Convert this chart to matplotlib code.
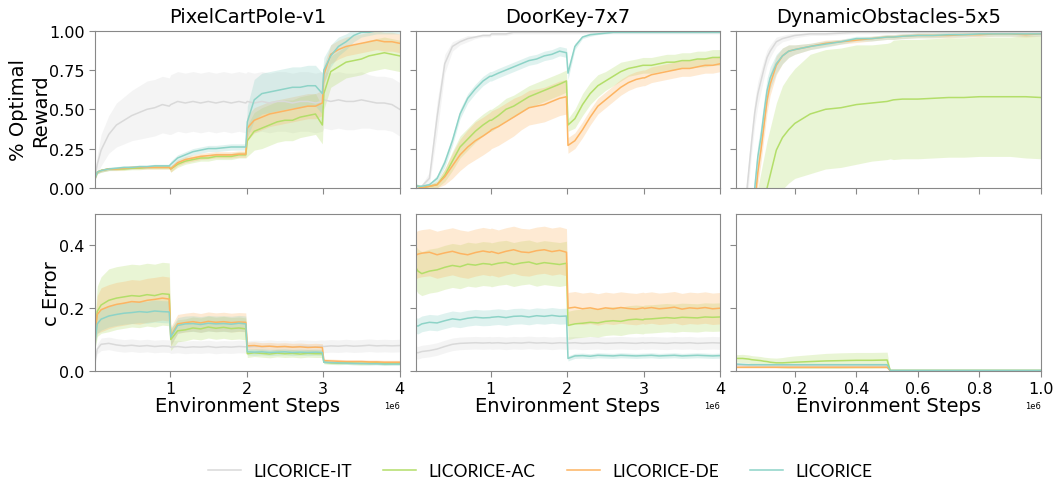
import numpy as np
import matplotlib.pyplot as plt

# method names and colours
names = ['LICORICE-IT', 'LICORICE-AC', 'LICORICE-DE', 'LICORICE']
colors = ['#d9d9d9', '#b3de69', '#fdb462', '#8dd3c7']
titles = ['PixelCartPole-v1', 'DoorKey-7x7', 'DynamicObstacles-5x5']

# environment steps (x 1e6)
x_long = [0.02, 0.05, 0.1, 0.2, 0.3, 0.4, 0.5, 0.6, 0.7, 0.8, 0.9, 0.99,
          1.01, 1.1, 1.2, 1.3, 1.4, 1.5, 1.6, 1.7, 1.8, 1.9, 1.99,
          2.01, 2.1, 2.2, 2.3, 2.4, 2.5, 2.6, 2.7, 2.8, 2.9, 2.99,
          3.01, 3.1, 3.2, 3.3, 3.4, 3.5, 3.6, 3.7, 3.8, 3.9, 4.0]
x_short = [0.01, 0.03, 0.05, 0.06, 0.07, 0.08, 0.09, 0.1,
           0.11, 0.12, 0.14, 0.16, 0.18, 0.2, 0.25, 0.3,
           0.35, 0.4, 0.45, 0.5, 0.51, 0.52, 0.55, 0.6,
           0.65, 0.7, 0.75, 0.8, 0.85, 0.9, 0.95, 1.0]

# ---- PixelCartPole: % optimal reward ----
cp_it = [0.07, 0.15, 0.24, 0.34, 0.40, 0.43, 0.46, 0.48, 0.50, 0.51, 0.53, 0.52,
         0.53, 0.55, 0.54, 0.55, 0.54, 0.55, 0.54, 0.55, 0.54, 0.55, 0.54,
         0.55, 0.54, 0.55, 0.54, 0.55, 0.55, 0.54, 0.55, 0.55, 0.54, 0.55,
         0.56, 0.55, 0.56, 0.55, 0.55, 0.56, 0.55, 0.54, 0.54, 0.53, 0.50]
cp_it_sd = [0.02, 0.06, 0.10, 0.12, 0.14, 0.15, 0.16, 0.17, 0.18, 0.18, 0.18, 0.18,
            0.19, 0.19, 0.19, 0.19, 0.19, 0.19, 0.19, 0.19, 0.19, 0.19, 0.19,
            0.19, 0.19, 0.19, 0.19, 0.19, 0.19, 0.19, 0.19, 0.19, 0.19, 0.19,
            0.18, 0.18, 0.18, 0.18, 0.18, 0.18, 0.17, 0.17, 0.17, 0.17, 0.17]
cp_ac = [0.06, 0.10, 0.11, 0.12, 0.12, 0.12, 0.125, 0.125, 0.13, 0.13, 0.13, 0.13,
         0.12, 0.15, 0.17, 0.18, 0.19, 0.19, 0.20, 0.20, 0.20, 0.21, 0.21,
         0.30, 0.36, 0.38, 0.40, 0.42, 0.43, 0.43, 0.45, 0.46, 0.47, 0.40,
         0.60, 0.74, 0.77, 0.80, 0.81, 0.82, 0.84, 0.85, 0.86, 0.85, 0.84]
cp_ac_sd = [0.01, 0.01, 0.01, 0.01, 0.01, 0.01, 0.01, 0.01, 0.01, 0.01, 0.01, 0.01,
            0.02, 0.02, 0.02, 0.02, 0.02, 0.02, 0.02, 0.02, 0.02, 0.02, 0.02,
            0.10, 0.12, 0.13, 0.13, 0.13, 0.13, 0.13, 0.13, 0.13, 0.13, 0.12,
            0.10, 0.10, 0.10, 0.10, 0.10, 0.10, 0.10, 0.10, 0.10, 0.10, 0.10]
cp_de = [0.06, 0.10, 0.11, 0.12, 0.12, 0.125, 0.13, 0.13, 0.13, 0.13, 0.13, 0.13,
         0.12, 0.16, 0.18, 0.19, 0.20, 0.205, 0.21, 0.21, 0.21, 0.215, 0.215,
         0.38, 0.43, 0.45, 0.47, 0.48, 0.49, 0.50, 0.51, 0.52, 0.52, 0.54,
         0.72, 0.85, 0.88, 0.90, 0.91, 0.92, 0.93, 0.94, 0.93, 0.93, 0.92]
cp_de_sd = [0.01, 0.01, 0.01, 0.01, 0.01, 0.01, 0.01, 0.01, 0.01, 0.01, 0.01, 0.01,
            0.02, 0.02, 0.02, 0.02, 0.02, 0.02, 0.02, 0.02, 0.02, 0.02, 0.02,
            0.08, 0.08, 0.08, 0.08, 0.08, 0.08, 0.08, 0.08, 0.08, 0.08, 0.08,
            0.06, 0.06, 0.06, 0.06, 0.06, 0.06, 0.06, 0.06, 0.06, 0.06, 0.06]
cp_lic = [0.06, 0.10, 0.11, 0.12, 0.125, 0.13, 0.13, 0.135, 0.135, 0.14, 0.14, 0.14,
          0.15, 0.19, 0.21, 0.23, 0.24, 0.25, 0.25, 0.255, 0.26, 0.26, 0.26,
          0.42, 0.56, 0.60, 0.61, 0.62, 0.63, 0.64, 0.64, 0.65, 0.65, 0.60,
          0.75, 0.84, 0.90, 0.93, 0.97, 0.99, 0.99, 1.0, 1.0, 1.0, 1.0]
cp_lic_sd = [0.01, 0.01, 0.01, 0.01, 0.01, 0.01, 0.01, 0.01, 0.01, 0.01, 0.01, 0.01,
             0.02, 0.02, 0.02, 0.02, 0.02, 0.02, 0.02, 0.02, 0.02, 0.02, 0.02,
             0.10, 0.13, 0.13, 0.13, 0.13, 0.13, 0.13, 0.13, 0.13, 0.13, 0.13,
             0.08, 0.07, 0.06, 0.05, 0.04, 0.03, 0.02, 0.02, 0.02, 0.02, 0.02]

# ---- DoorKey: % optimal reward ----
dk_it = [0.0, 0.0, 0.01, 0.06, 0.45, 0.79, 0.90, 0.93, 0.95, 0.96, 0.97, 0.97,
         0.98, 0.98, 0.98, 0.99, 0.99, 0.99, 0.99, 0.99, 0.99, 0.99, 0.99,
         0.99, 0.99, 0.99, 0.99, 0.99, 0.99, 0.99, 0.99, 0.99, 0.99, 0.99,
         0.99, 0.99, 0.99, 0.99, 0.99, 0.99, 0.99, 0.99, 0.99, 0.99, 0.99]
dk_it_sd = [0.0, 0.0, 0.01, 0.04, 0.10, 0.06, 0.03, 0.02, 0.02, 0.01, 0.01, 0.01,
            0.01, 0.01, 0.01, 0.01, 0.01, 0.01, 0.01, 0.01, 0.01, 0.01, 0.01,
            0.01, 0.01, 0.01, 0.01, 0.01, 0.01, 0.01, 0.01, 0.01, 0.01, 0.01,
            0.01, 0.01, 0.01, 0.01, 0.01, 0.01, 0.01, 0.01, 0.01, 0.01, 0.01]
dk_ac = [0.01, 0.01, 0.00, 0.01, 0.02, 0.08, 0.17, 0.26, 0.31, 0.36, 0.40, 0.43,
         0.43, 0.46, 0.50, 0.52, 0.55, 0.58, 0.60, 0.62, 0.64, 0.66, 0.68,
         0.40, 0.44, 0.53, 0.60, 0.65, 0.68, 0.71, 0.74, 0.76, 0.77, 0.78,
         0.78, 0.78, 0.79, 0.80, 0.80, 0.81, 0.81, 0.82, 0.82, 0.83, 0.83]
dk_ac_sd = [0.01, 0.01, 0.01, 0.01, 0.02, 0.04, 0.06, 0.07, 0.07, 0.07, 0.07, 0.07,
            0.07, 0.07, 0.07, 0.07, 0.07, 0.07, 0.07, 0.07, 0.07, 0.07, 0.07,
            0.04, 0.06, 0.07, 0.07, 0.07, 0.06, 0.06, 0.06, 0.05, 0.05, 0.05,
            0.05, 0.05, 0.05, 0.05, 0.05, 0.05, 0.05, 0.05, 0.05, 0.05, 0.05]
dk_de = [0.01, 0.01, 0.00, 0.01, 0.02, 0.07, 0.14, 0.21, 0.26, 0.30, 0.33, 0.36,
         0.37, 0.39, 0.42, 0.45, 0.48, 0.51, 0.52, 0.53, 0.55, 0.57, 0.58,
         0.27, 0.30, 0.37, 0.45, 0.52, 0.56, 0.60, 0.64, 0.67, 0.69, 0.70,
         0.70, 0.72, 0.73, 0.74, 0.75, 0.76, 0.76, 0.77, 0.78, 0.78, 0.79]
dk_de_sd = [0.01, 0.01, 0.01, 0.01, 0.02, 0.05, 0.08, 0.10, 0.11, 0.12, 0.12, 0.12,
            0.12, 0.12, 0.12, 0.12, 0.11, 0.11, 0.11, 0.11, 0.11, 0.11, 0.11,
            0.05, 0.05, 0.05, 0.05, 0.05, 0.05, 0.05, 0.05, 0.05, 0.05, 0.05,
            0.05, 0.05, 0.05, 0.05, 0.05, 0.05, 0.05, 0.05, 0.05, 0.05, 0.05]
dk_lic = [0.02, 0.01, 0.01, 0.02, 0.06, 0.16, 0.30, 0.47, 0.57, 0.63, 0.68, 0.71,
          0.71, 0.73, 0.75, 0.77, 0.79, 0.81, 0.82, 0.84, 0.85, 0.87, 0.86,
          0.73, 0.90, 0.96, 0.975, 0.98, 0.985, 0.99, 0.99, 0.99, 0.99, 0.99,
          0.99, 0.99, 0.99, 0.99, 0.99, 0.99, 0.99, 0.99, 0.99, 0.99, 0.99]
dk_lic_sd = [0.01, 0.01, 0.01, 0.01, 0.02, 0.03, 0.03, 0.03, 0.03, 0.03, 0.03, 0.03,
             0.03, 0.03, 0.03, 0.03, 0.03, 0.03, 0.03, 0.03, 0.03, 0.03, 0.03,
             0.04, 0.02, 0.01, 0.01, 0.005, 0.005, 0.005, 0.005, 0.005, 0.005, 0.005,
             0.005, 0.005, 0.005, 0.005, 0.005, 0.005, 0.005, 0.005, 0.005, 0.005, 0.005]

# ---- DynamicObstacles: % optimal reward ----
do_it = [-0.6, -0.3, 0.10, 0.30, 0.48, 0.60, 0.68, 0.76,
         0.83, 0.87, 0.93, 0.95, 0.96, 0.97, 0.98, 0.98,
         0.985, 0.99, 0.99, 0.99, 0.99, 0.99, 0.99, 0.99,
         0.99, 0.99, 0.99, 0.99, 0.99, 0.99, 0.99, 0.99]
do_it_sd = [0.05, 0.05, 0.08, 0.08, 0.08, 0.08, 0.07, 0.06,
            0.05, 0.04, 0.03, 0.02, 0.02, 0.015, 0.01, 0.01,
            0.01, 0.01, 0.01, 0.01, 0.01, 0.01, 0.01, 0.01,
            0.01, 0.01, 0.01, 0.01, 0.01, 0.01, 0.01, 0.01]
do_ac = [-1.0, -0.8, -0.6, -0.5, -0.4, -0.3, -0.2, -0.1,
         0.0, 0.08, 0.24, 0.32, 0.37, 0.41, 0.47, 0.50,
         0.51, 0.53, 0.54, 0.55, 0.555, 0.56, 0.565, 0.565,
         0.57, 0.575, 0.575, 0.58, 0.58, 0.58, 0.58, 0.575]
do_ac_sd = [0.30, 0.30, 0.30, 0.30, 0.30, 0.30, 0.30, 0.30,
            0.30, 0.30, 0.30, 0.33, 0.34, 0.35, 0.38, 0.38,
            0.38, 0.38, 0.37, 0.37, 0.37, 0.38, 0.38, 0.38,
            0.38, 0.38, 0.38, 0.38, 0.38, 0.38, 0.39, 0.39]
do_de = [-1.0, -0.8, -0.5, -0.3, -0.1, 0.1, 0.24, 0.40,
         0.56, 0.66, 0.78, 0.84, 0.87, 0.88, 0.90, 0.92,
         0.93, 0.94, 0.95, 0.96, 0.96, 0.96, 0.965, 0.97,
         0.97, 0.97, 0.975, 0.975, 0.98, 0.98, 0.975, 0.98]
do_de_sd = [0.08, 0.08, 0.08, 0.08, 0.08, 0.08, 0.08, 0.08,
            0.08, 0.07, 0.06, 0.05, 0.04, 0.03, 0.02, 0.02,
            0.015, 0.015, 0.015, 0.015, 0.015, 0.015, 0.015, 0.015,
            0.015, 0.015, 0.015, 0.015, 0.015, 0.015, 0.015, 0.015]
do_lic = [-1.0, -0.7, -0.4, -0.2, 0.0, 0.2, 0.32, 0.48,
          0.62, 0.70, 0.79, 0.84, 0.87, 0.88, 0.90, 0.915,
          0.93, 0.95, 0.95, 0.96, 0.96, 0.96, 0.965, 0.97,
          0.97, 0.975, 0.975, 0.98, 0.98, 0.98, 0.98, 0.98]
do_lic_sd = [0.08, 0.08, 0.08, 0.08, 0.08, 0.08, 0.08, 0.08,
             0.08, 0.07, 0.06, 0.05, 0.04, 0.03, 0.02, 0.02,
             0.015, 0.015, 0.015, 0.015, 0.015, 0.015, 0.015, 0.015,
             0.015, 0.015, 0.015, 0.015, 0.015, 0.015, 0.015, 0.015]

# ---- PixelCartPole: c error ----
cpe_it = [0.03, 0.07, 0.085, 0.088, 0.083, 0.080, 0.082, 0.079, 0.081, 0.078, 0.080, 0.079,
          0.076, 0.078, 0.075, 0.077, 0.076, 0.078, 0.075, 0.077, 0.076, 0.078, 0.077,
          0.076, 0.078, 0.077, 0.079, 0.077, 0.078, 0.076, 0.079, 0.078, 0.077, 0.079,
          0.078, 0.080, 0.079, 0.081, 0.079, 0.080, 0.082, 0.080, 0.081, 0.080, 0.081]
cpe_it_sd = [0.01, 0.015, 0.02, 0.02, 0.02, 0.02, 0.02, 0.02, 0.02, 0.02, 0.02, 0.02,
             0.02, 0.02, 0.02, 0.02, 0.02, 0.02, 0.02, 0.02, 0.02, 0.02, 0.02,
             0.02, 0.02, 0.02, 0.02, 0.02, 0.02, 0.02, 0.02, 0.02, 0.02, 0.02,
             0.02, 0.02, 0.02, 0.02, 0.02, 0.02, 0.02, 0.02, 0.02, 0.02, 0.02]
cpe_ac = [0.12, 0.19, 0.21, 0.225, 0.232, 0.236, 0.240, 0.238, 0.243, 0.240, 0.246, 0.244,
          0.100, 0.128, 0.131, 0.137, 0.134, 0.140, 0.136, 0.139, 0.135, 0.137, 0.134,
          0.055, 0.058, 0.056, 0.054, 0.057, 0.055, 0.056, 0.054, 0.056, 0.055, 0.055,
          0.028, 0.026, 0.025, 0.026, 0.025, 0.024, 0.025, 0.026, 0.024, 0.025, 0.025]
cpe_ac_sd = [0.05, 0.08, 0.09, 0.10, 0.10, 0.10, 0.10, 0.10, 0.10, 0.10, 0.10, 0.10,
             0.035, 0.035, 0.035, 0.035, 0.035, 0.035, 0.035, 0.035, 0.035, 0.035, 0.035,
             0.012, 0.012, 0.012, 0.012, 0.012, 0.012, 0.012, 0.012, 0.012, 0.012, 0.012,
             0.005, 0.005, 0.005, 0.005, 0.005, 0.005, 0.005, 0.005, 0.005, 0.005, 0.005]
cpe_de = [0.12, 0.18, 0.195, 0.205, 0.212, 0.216, 0.221, 0.219, 0.225, 0.228, 0.232, 0.229,
          0.110, 0.150, 0.154, 0.157, 0.153, 0.158, 0.155, 0.157, 0.154, 0.156, 0.155,
          0.080, 0.081, 0.078, 0.079, 0.077, 0.078, 0.076, 0.077, 0.075, 0.076, 0.075,
          0.033, 0.032, 0.031, 0.030, 0.030, 0.030, 0.029, 0.029, 0.028, 0.028, 0.028]
cpe_de_sd = [0.04, 0.06, 0.07, 0.07, 0.07, 0.07, 0.07, 0.07, 0.07, 0.07, 0.07, 0.07,
             0.03, 0.03, 0.03, 0.03, 0.03, 0.03, 0.03, 0.03, 0.03, 0.03, 0.03,
             0.012, 0.012, 0.012, 0.012, 0.012, 0.012, 0.012, 0.012, 0.012, 0.012, 0.012,
             0.006, 0.006, 0.006, 0.006, 0.006, 0.006, 0.006, 0.006, 0.006, 0.006, 0.006]
cpe_lic = [0.09, 0.15, 0.165, 0.175, 0.180, 0.184, 0.186, 0.189, 0.187, 0.191, 0.189, 0.188,
           0.108, 0.145, 0.150, 0.151, 0.148, 0.152, 0.150, 0.151, 0.149, 0.152, 0.150,
           0.061, 0.060, 0.061, 0.059, 0.060, 0.061, 0.059, 0.060, 0.059, 0.060, 0.059,
           0.028, 0.027, 0.026, 0.025, 0.024, 0.024, 0.023, 0.023, 0.022, 0.022, 0.022]
cpe_lic_sd = [0.02, 0.03, 0.035, 0.035, 0.035, 0.035, 0.035, 0.035, 0.035, 0.035, 0.035, 0.035,
              0.025, 0.025, 0.025, 0.025, 0.025, 0.025, 0.025, 0.025, 0.025, 0.025, 0.025,
              0.01, 0.01, 0.01, 0.01, 0.01, 0.01, 0.01, 0.01, 0.01, 0.01, 0.01,
              0.004, 0.004, 0.004, 0.004, 0.004, 0.004, 0.004, 0.004, 0.004, 0.004, 0.004]

# ---- DoorKey: c error ----
dke_it = [0.060, 0.058, 0.062, 0.065, 0.070, 0.078, 0.085, 0.088, 0.089, 0.090, 0.089, 0.090,
          0.089, 0.090, 0.088, 0.090, 0.089, 0.091, 0.089, 0.090, 0.088, 0.090, 0.089,
          0.089, 0.090, 0.088, 0.089, 0.090, 0.088, 0.089, 0.090, 0.089, 0.088, 0.090,
          0.089, 0.090, 0.089, 0.088, 0.090, 0.089, 0.090, 0.088, 0.089, 0.090, 0.089]
dke_it_sd = [0.02, 0.02, 0.02, 0.02, 0.02, 0.02, 0.02, 0.02, 0.02, 0.02, 0.02, 0.02,
             0.02, 0.02, 0.02, 0.02, 0.02, 0.02, 0.02, 0.02, 0.02, 0.02, 0.02,
             0.02, 0.02, 0.02, 0.02, 0.02, 0.02, 0.02, 0.02, 0.02, 0.02, 0.02,
             0.02, 0.02, 0.02, 0.02, 0.02, 0.02, 0.02, 0.02, 0.02, 0.02, 0.02]
dke_ac = [0.330, 0.318, 0.310, 0.318, 0.322, 0.330, 0.336, 0.332, 0.340, 0.337, 0.342, 0.340,
          0.338, 0.343, 0.346, 0.339, 0.344, 0.347, 0.340, 0.345, 0.342, 0.339, 0.343,
          0.145, 0.150, 0.152, 0.155, 0.153, 0.158, 0.160, 0.158, 0.163, 0.165, 0.163,
          0.165, 0.166, 0.168, 0.170, 0.168, 0.171, 0.170, 0.169, 0.172, 0.171, 0.172]
dke_ac_sd = [0.07, 0.07, 0.07, 0.07, 0.07, 0.07, 0.07, 0.07, 0.07, 0.07, 0.07, 0.07,
             0.07, 0.07, 0.07, 0.07, 0.07, 0.07, 0.07, 0.07, 0.07, 0.07, 0.07,
             0.045, 0.045, 0.045, 0.045, 0.045, 0.045, 0.045, 0.045, 0.045, 0.045, 0.045,
             0.045, 0.045, 0.045, 0.045, 0.045, 0.045, 0.045, 0.045, 0.045, 0.045, 0.045]
dke_de = [0.368, 0.372, 0.375, 0.378, 0.370, 0.376, 0.381, 0.374, 0.370, 0.377, 0.382, 0.378,
          0.380, 0.374, 0.381, 0.386, 0.379, 0.377, 0.383, 0.386, 0.380, 0.384, 0.378,
          0.200, 0.203, 0.198, 0.201, 0.196, 0.201, 0.198, 0.202, 0.199, 0.197, 0.201,
          0.199, 0.202, 0.198, 0.200, 0.203, 0.197, 0.201, 0.199, 0.202, 0.198, 0.200]
dke_de_sd = [0.075, 0.075, 0.075, 0.075, 0.075, 0.075, 0.075, 0.075, 0.075, 0.075, 0.075, 0.075,
             0.075, 0.075, 0.075, 0.075, 0.075, 0.075, 0.075, 0.075, 0.075, 0.075, 0.075,
             0.05, 0.05, 0.05, 0.05, 0.05, 0.05, 0.05, 0.05, 0.05, 0.05, 0.05,
             0.05, 0.05, 0.05, 0.05, 0.05, 0.05, 0.05, 0.05, 0.05, 0.05, 0.05]
dke_lic = [0.145, 0.143, 0.150, 0.155, 0.153, 0.160, 0.166, 0.163, 0.168, 0.171, 0.169, 0.170,
           0.171, 0.173, 0.170, 0.174, 0.175, 0.172, 0.176, 0.174, 0.177, 0.174, 0.175,
           0.040, 0.048, 0.049, 0.047, 0.050, 0.049, 0.048, 0.050, 0.049, 0.048, 0.049,
           0.049, 0.050, 0.048, 0.049, 0.050, 0.048, 0.049, 0.050, 0.049, 0.048, 0.049]
dke_lic_sd = [0.025, 0.025, 0.025, 0.025, 0.025, 0.025, 0.025, 0.025, 0.025, 0.025, 0.025, 0.025,
              0.025, 0.025, 0.025, 0.025, 0.025, 0.025, 0.025, 0.025, 0.025, 0.025, 0.025,
              0.008, 0.008, 0.008, 0.008, 0.008, 0.008, 0.008, 0.008, 0.008, 0.008, 0.008,
              0.008, 0.008, 0.008, 0.008, 0.008, 0.008, 0.008, 0.008, 0.008, 0.008, 0.008]

# ---- DynamicObstacles: c error ----
doe_it = [0.018, 0.017, 0.016, 0.016, 0.016, 0.015, 0.016, 0.015,
          0.015, 0.016, 0.015, 0.016, 0.015, 0.016, 0.016, 0.016,
          0.016, 0.016, 0.016, 0.016, 0.001, 0.001, 0.001, 0.001,
          0.001, 0.001, 0.001, 0.001, 0.001, 0.001, 0.001, 0.001]
doe_it_sd = [0.003, 0.003, 0.003, 0.003, 0.003, 0.003, 0.003, 0.003,
             0.003, 0.003, 0.003, 0.003, 0.003, 0.003, 0.003, 0.003,
             0.003, 0.003, 0.003, 0.003, 0.001, 0.001, 0.001, 0.001,
             0.001, 0.001, 0.001, 0.001, 0.001, 0.001, 0.001, 0.001]
doe_ac = [0.040, 0.040, 0.038, 0.036, 0.035, 0.034, 0.033, 0.031,
          0.030, 0.028, 0.026, 0.026, 0.027, 0.028, 0.030, 0.032,
          0.033, 0.034, 0.034, 0.035, 0.002, 0.002, 0.002, 0.002,
          0.002, 0.002, 0.002, 0.002, 0.002, 0.002, 0.002, 0.002]
doe_ac_sd = [0.012, 0.013, 0.013, 0.013, 0.013, 0.013, 0.013, 0.013,
             0.013, 0.014, 0.015, 0.017, 0.019, 0.020, 0.022, 0.024,
             0.025, 0.025, 0.025, 0.025, 0.001, 0.001, 0.001, 0.001,
             0.001, 0.001, 0.001, 0.001, 0.001, 0.001, 0.001, 0.001]
doe_de = [0.012, 0.012, 0.012, 0.012, 0.012, 0.012, 0.012, 0.012,
          0.012, 0.012, 0.012, 0.012, 0.012, 0.012, 0.012, 0.012,
          0.012, 0.012, 0.012, 0.012, 0.001, 0.001, 0.001, 0.001,
          0.001, 0.001, 0.001, 0.001, 0.001, 0.001, 0.001, 0.001]
doe_de_sd = [0.003, 0.003, 0.003, 0.003, 0.003, 0.003, 0.003, 0.003,
             0.003, 0.003, 0.003, 0.003, 0.003, 0.003, 0.003, 0.003,
             0.003, 0.003, 0.003, 0.003, 0.001, 0.001, 0.001, 0.001,
             0.001, 0.001, 0.001, 0.001, 0.001, 0.001, 0.001, 0.001]
doe_lic = [0.022, 0.021, 0.020, 0.020, 0.020, 0.020, 0.020, 0.020,
           0.020, 0.020, 0.020, 0.020, 0.020, 0.020, 0.020, 0.020,
           0.020, 0.020, 0.020, 0.020, 0.002, 0.002, 0.002, 0.002,
           0.002, 0.002, 0.002, 0.002, 0.002, 0.002, 0.002, 0.002]
doe_lic_sd = [0.004, 0.004, 0.004, 0.004, 0.004, 0.004, 0.004, 0.004,
              0.004, 0.004, 0.004, 0.004, 0.004, 0.004, 0.004, 0.004,
              0.004, 0.004, 0.004, 0.004, 0.001, 0.001, 0.001, 0.001,
              0.001, 0.001, 0.001, 0.001, 0.001, 0.001, 0.001, 0.001]

xs = [x_long, x_long, x_short]
reward = [
    [(cp_it, cp_it_sd), (cp_ac, cp_ac_sd), (cp_de, cp_de_sd), (cp_lic, cp_lic_sd)],
    [(dk_it, dk_it_sd), (dk_ac, dk_ac_sd), (dk_de, dk_de_sd), (dk_lic, dk_lic_sd)],
    [(do_it, do_it_sd), (do_ac, do_ac_sd), (do_de, do_de_sd), (do_lic, do_lic_sd)],
]
cerror = [
    [(cpe_it, cpe_it_sd), (cpe_ac, cpe_ac_sd), (cpe_de, cpe_de_sd), (cpe_lic, cpe_lic_sd)],
    [(dke_it, dke_it_sd), (dke_ac, dke_ac_sd), (dke_de, dke_de_sd), (dke_lic, dke_lic_sd)],
    [(doe_it, doe_it_sd), (doe_ac, doe_ac_sd), (doe_de, doe_de_sd), (doe_lic, doe_lic_sd)],
]

fig, axes = plt.subplots(2, 3, figsize=(10.53, 4.81), dpi=100, sharex='col', sharey='row')
fig.subplots_adjust(left=0.0902, right=0.9886, top=0.934, bottom=0.2266,
                    wspace=0.0525, hspace=0.166)

for col in range(3):
    x = np.array(xs[col]) * 1e6
    for row, data in enumerate([reward[col], cerror[col]]):
        ax = axes[row, col]
        for k, (m, s) in enumerate(data):
            m = np.array(m)
            s = np.array(s)
            ax.fill_between(x, m - s, m + s, color=colors[k], alpha=0.28, lw=0)
            ax.plot(x, m, color=colors[k], lw=1.1, label=names[k])
        ax.set_xlim(x[0], x[-1])
        ax.tick_params(direction='out', length=4, color='#888888', labelsize=11.5)
        for sp in ax.spines.values():
            sp.set_color('#888888')
    axes[0, col].set_title(titles[col], fontsize=14)
    axes[1, col].set_xlabel('Environment Steps', fontsize=14, labelpad=0)
    axes[1, col].xaxis.get_offset_text().set_fontsize(6)

axes[0, 0].set_xticks([1e6, 2e6, 3e6, 4e6])
axes[0, 1].set_xticks([1e6, 2e6, 3e6, 4e6])
axes[0, 2].set_xticks([0.2e6, 0.4e6, 0.6e6, 0.8e6, 1.0e6])

axes[0, 0].set_ylim(0, 1)
axes[0, 0].set_yticks([0, 0.25, 0.5, 0.75, 1.0])
axes[1, 0].set_ylim(0, 0.5)
axes[1, 0].set_yticks([0, 0.2, 0.4])
axes[0, 0].set_ylabel('% Optimal\nReward', fontsize=14)
axes[0, 0].yaxis.set_label_coords(-0.147, 0.5)
axes[1, 0].set_ylabel('c Error', fontsize=14)
axes[1, 0].yaxis.set_label_coords(-0.11, 0.5)

handles, labels = axes[0, 0].get_legend_handles_labels()
fig.legend(handles, labels, loc='lower center', ncol=4, frameon=False,
           bbox_to_anchor=(0.513, -0.03), prop={'family': 'Lato', 'size': 12.5},
           handlelength=1.9, handletextpad=0.7, columnspacing=1.8)

fig.savefig('out.png', dpi=100)
